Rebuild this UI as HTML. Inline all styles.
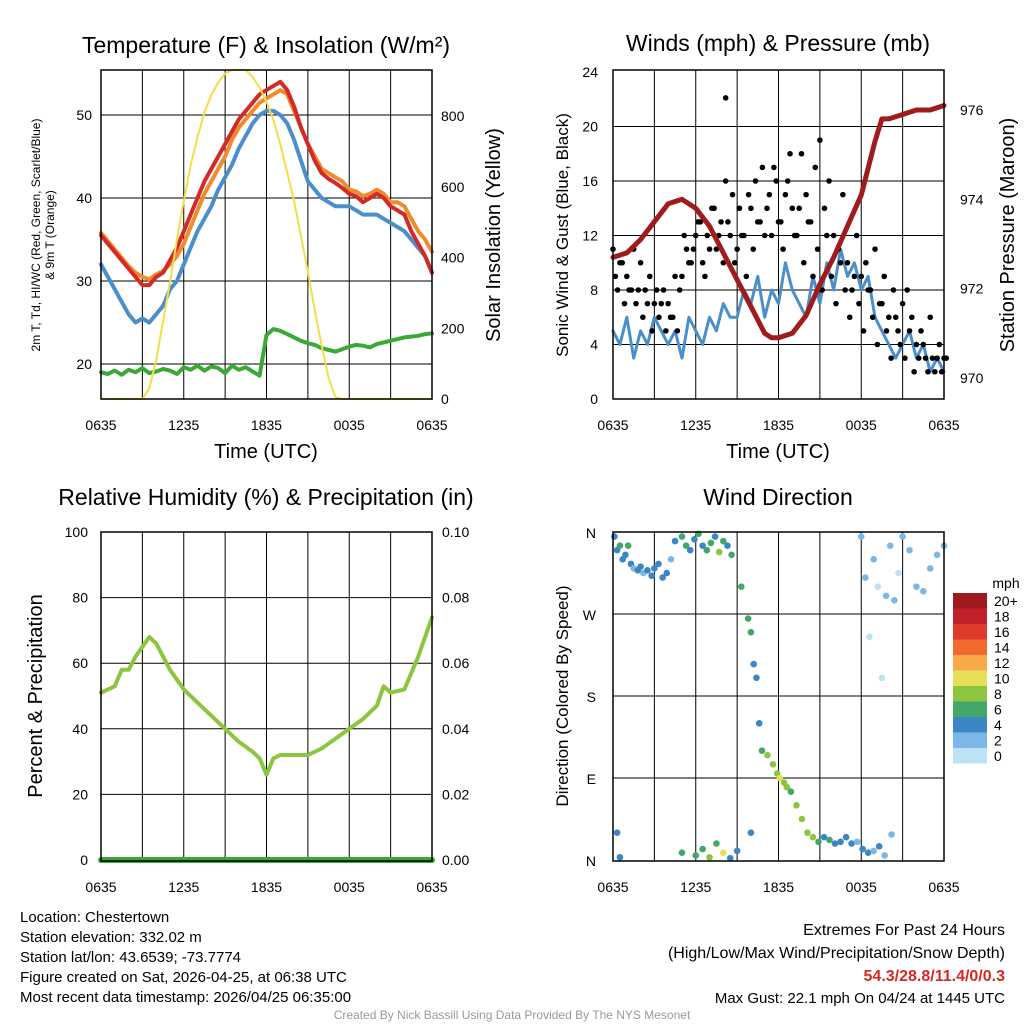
<!DOCTYPE html>
<html><head><meta charset="utf-8"><style>
body{margin:0;background:#fff}
svg{display:block;font-family:"Liberation Sans",sans-serif}
</style></head><body>
<svg id="c" width="1024" height="1024" viewBox="0 0 1024 1024"></svg>
<script>
// ---------- DATA ----------
const hrsHalf = [0,0.5,1,1.5,2,2.5,3,3.5,4,4.5,5,5.5,6,6.5,7,7.5,8,8.5,9,9.5,10,10.5,11,11.5,12,12.5,13,13.5,14,14.5,15,15.5,16,16.5,17,17.5,18,18.5,19,19.5,20,20.5,21,21.5,22,22.5,23,23.5,24];
const tempRed = [35.5,34.5,33.5,32.5,31.5,30.5,29.5,29.5,30.5,31,32.5,34,36,38,40,42,43.5,45,46.5,48,49.5,50.5,51.5,52.5,53,53.5,54,53,51,48.5,46.5,44.5,43,42.3,41.8,41.2,40.5,40.2,39.5,40,40.5,40,39,38.5,38,36,34.5,33,31];
const temp9m = [35.8,34.8,33.8,32.8,31.8,31,30.5,30.2,30.8,31.2,32,33,34.5,36.5,38.5,40.5,42,43.5,45,47,48.5,49.5,50.5,51.5,52,52.5,53,52.5,50.5,48.5,46.5,45,43.5,43,42.5,42,41,40.8,40.2,40.5,41,40.5,39.5,39.5,39,37.5,36,35,33.5];
const tempBlue = [32,30.5,29,27.5,26,25,25.5,25,26,27,29,30,32,34,36,37.5,39,41,42.5,44,46,47.5,49,50,50.5,50.5,50,49,47,44.5,42,41,40,39.5,39,39,39,38.5,38,38,38,37.5,37,36.5,36,35,34,33,31];
const dewGreen = [19,18.8,19.2,18.7,19.3,19,19.5,18.9,19.1,19.4,19.2,18.8,19.6,19.3,19.8,19.2,19.7,19.5,18.9,19.8,19.3,19.6,19.1,18.6,23.5,24.2,24,23.6,23.2,22.8,22.5,22.3,21.9,21.7,21.5,21.8,22.1,22.3,22.2,22,22.4,22.6,22.8,23,23.2,23.3,23.4,23.6,23.7];
const solar = [0,0,0,0,0,0,0,30,110,220,330,450,560,660,740,810,860,895,920,930,930,930,910,880,840,790,720,640,560,460,360,250,150,60,5,0,0,0,0,0,0,0,0,0,0,0,0,0,0];
const windSpd = [5,4,6,3,5,4,6,5,4,5,3,6,5,4,6,5,7,6,6,8,7,9,6,8,7,10,8,7,6,9,7,10,8,11,9,10,8,9,6,5,4,3,4,5,3,4,2,3,2];
const gustVals = [11,8,10,9,8,7,10,8,9,7,6,8,7,6,5,9,11,10,12,13,9,11,14,12,10,13,15,11,12,9,14,16,13,12,15,17,13,11,16,14,12,18,15,13,17,19,14,16,12,11,15,10,8,12,9,10,8,11,7,9,6,8,5,7,8,6,4,5,3,6,2,4,3];
const gust2 = [9,10,7,8,11,8,6,7,5,8,7,5,6,9,8,12,10,11,13,10,12,14,11,13,16,12,10,14,12,15,11,13,17,14,12,16,13,15,18,12,14,10,13,9,11,8,12,9,7,10,8,6,9,7,5,8,6,4,7,5,3,6,4,3,5,2,3,4,2,3,3,2,3];
const pressHrs = [0,1,2,3,4,5,6,7,8,9,10,11,11.5,12,13,14,15,16,17,18,19,19.5,20,21,22,23,24];
const pressure = [972.7,972.8,973.1,973.5,973.9,974.0,973.8,973.4,972.8,972.2,971.6,971.0,970.9,970.9,971.0,971.4,972.1,972.7,973.4,974.1,975.3,975.8,975.8,975.9,976.0,976.0,976.1];
const rhHrs = [0,1,1.5,2,2.5,3,3.5,4,4.5,5,6,7,8,9,10,11,11.5,12,12.5,13,14,15,16,17,18,19,20,20.5,21,22,23,23.5,24];
const rh = [51,53,58,58,62,65,68,66,62,58,52,48,44,40,36,33,31,26,31,32,32,32,34,37,40,43,47,53,51,52,62,68,74];
const precip = [0,0,0,0,0,0,0,0,0,0,0,0,0,0,0,0,0,0,0,0,0,0,0,0,0];
const wdT = [0.1,0.3,0.5,0.7,0.9,1.1,1.3,1.5,1.8,2.0,2.2,2.5,2.8,3.0,3.3,3.6,3.9,4.2,4.5,5.0,5.3,5.6,5.9,6.2,6.5,6.8,7.1,7.4,7.7,8.0,8.3,8.6,9.3,9.8,10.0,10.2,10.4,10.6,10.8,11.2,11.6,11.9,12.1,12.4,12.6,12.9,13.3,13.7,14.1,14.5,14.9,15.3,15.7,16.1,16.5,16.9,17.3,17.7,18.1,18.5,18.9,19.3,19.7,20.2,18.0,18.3,18.6,18.9,19.2,19.5,19.8,20.1,20.4,20.7,21.0,21.5,22.0,22.5,23.0,23.5,24.0,6.0,6.5,7.0,7.5,8.0,8.5,9.0,10.0,5.0,0.3,0.5];
const wdDir = [355,340,345,330,335,345,325,320,318,322,315,318,312,320,325,310,315,330,350,355,345,340,352,358,345,340,348,355,338,350,345,335,300,265,250,215,200,150,120,115,105,95,90,85,80,75,60,45,30,25,20,25,22,18,20,25,18,20,12,8,10,15,5,28,355,310,245,330,300,200,290,345,285,315,355,340,300,295,320,335,345,5,12,3,18,8,2,10,30,8,30,3];
const wdSpd = [4,5,6,5,4,6,4,3,4,4,3,4,4,5,5,4,4,3,5,6,7,5,4,6,5,7,6,4,8,7,5,7,6,7,6,4,5,5,6,8,9,9,10,9,8,7,9,8,9,8,6,5,6,5,4,5,4,3,4,5,3,4,2,3,2,2,1,2,1,1,2,3,2,1,2,3,2,2,3,3,2,6,7,8,6,10,5,4,5,6,4,4];
const cbLabels = ["20+","18","16","14","12","10","8","6","4","2","0"];
const cbColors = ["#9e1a1e","#c2202a","#df3b2c","#f06a2d","#f8a94a","#e6df58","#8cc540","#45a669","#3d86c6","#7cb8e5","#bee3f6"];

// ---------- HELPERS ----------
const S = document.getElementById('c');
const NS = 'http://www.w3.org/2000/svg';
function mk(tag, attrs, parent, name, inter){
  const e = document.createElementNS(NS, tag);
  for (const k in attrs) e.setAttribute(k, attrs[k]);
  
  
  (parent || S).appendChild(e);
  return e;
}
function txt(x,y,s,size,opts,name){
  opts = opts || {};
  const a = {x:x,y:y,'font-size':size,fill:opts.fill||'#000','text-anchor':opts.anchor||'middle'};
  if (opts.rot) a.transform = 'rotate(-90 '+x+' '+y+')';
  if (opts.bold) a['font-weight']='bold';
  const e = mk('text', a, null, name, false);
  e.textContent = s;
  return e;
}
const W = 331, H = 329;
function xs(x0){ return t => x0 + t/24*W; }
function lin(d0,d1,p0,p1){ return v => p0 + (v-d0)/(d1-d0)*(p1-p0); }
function poly(xa, ya, fx, fy, color, w, name){
  const pts = xa.map((t,i)=>fx(t).toFixed(1)+','+fy(ya[i]).toFixed(1)).join(' ');
  return mk('polyline',{points:pts,fill:'none',stroke:color,'stroke-width':w,'stroke-linejoin':'round','stroke-linecap':'round'},null,name,false);
}
const xlabels = ['0635','1235','1835','0035','0635'];
function frame(x0,y0,name,hy){
  for (let h=3; h<24; h+=3){
    const x = x0 + h/24*W;
    mk('line',{x1:x,y1:y0,x2:x,y2:y0+H,stroke:'#000','stroke-width':1},null,name+'-vgrid',false);
  }
  hy.forEach(y=>{ mk('line',{x1:x0,y1:y,x2:x0+W,y2:y,stroke:'#000','stroke-width':1},null,name+'-hgrid',false); });
  xlabels.forEach((l,i)=>{ txt(x0+i*W/4, y0+H+31, l, 14, {}, name+'-x-tick-label'); });
}
function border(x0,y0,name){
  mk('rect',{x:x0,y:y0,width:W,height:H,fill:'none',stroke:'#000','stroke-width':1.5},null,name+'-frame',false);
}

// ---------- PANEL 1 ----------
const p1x = xs(101), p1y = lin(20,50,364,115), p1s = lin(0,800,399,116);
const t1ticks=[20,30,40,50], s1ticks=[0,200,400,600,800];
frame(101,70,'temp-panel', t1ticks.map(p1y));
t1ticks.forEach(v=>txt(92,p1y(v)+5,String(v),14,{anchor:'end'},'temp-y-tick-label'));
s1ticks.forEach(v=>txt(441,p1s(v)+5,String(v),14,{anchor:'start'},'solar-y-tick-label'));
poly(hrsHalf, dewGreen, p1x, p1y, '#3aa935', 4, 'dewpoint-line');
poly(hrsHalf, tempBlue, p1x, p1y, '#4a8fcc', 4, 'windchill-line');
poly(hrsHalf, temp9m, p1x, p1y, '#f08a2a', 4, 'temp-9m-line');
poly(hrsHalf, tempRed, p1x, p1y, '#d42a26', 4, 'temp-2m-line');
poly(hrsHalf, solar, p1x, p1s, '#f5dd4a', 2, 'solar-line');
border(101,70,'temp-panel');
txt(266,53,'Temperature (F) & Insolation (W/m²)',23,{},'temp-title');
txt(266,458,'Time (UTC)',20,{},'temp-x-axis-title');
txt(40,235,'2m T, Td, HI/WC (Red, Green, Scarlet/Blue)',12,{rot:1},'temp-y-axis-title');
txt(54,235,'& 9m T (Orange)',12,{rot:1},'temp-y-axis-title-2');
txt(500,235,'Solar Insolation (Yellow)',20,{rot:1},'solar-y-axis-title');

// ---------- PANEL 2 ----------
const p2x = xs(613), p2w = lin(0,24,399,72), p2p = lin(970,976,378,110);
const w2ticks=[0,4,8,12,16,20,24], pr2ticks=[970,972,974,976];
frame(613,70,'wind-panel',[4,8,12,16,20].map(p2w));
w2ticks.forEach(v=>txt(598,p2w(v)+5,String(v),14,{anchor:'end'},'wind-y-tick-label'));
pr2ticks.forEach(v=>txt(960,p2p(v)+5,String(v),14,{anchor:'start'},'pressure-y-tick-label'));
poly(hrsHalf, windSpd, p2x, p2w, '#4a8fcc', 3, 'wind-speed-line');
gustVals.forEach((v,i)=>{ mk('circle',{cx:p2x(i/3),cy:p2w(v),r:2.8,fill:'#000'},null,'gust-point',false); });
gust2.forEach((v,i)=>{ mk('circle',{cx:p2x(i/3+1/6),cy:p2w(v),r:2.8,fill:'#000'},null,'gust-point',false); });
mk('circle',{cx:p2x(8.17),cy:p2w(22.1),r:2.8,fill:'#000'},null,'max-gust-point',false);
poly(pressHrs, pressure, p2x, p2p, '#a01c1c', 5, 'pressure-line');
border(613,70,'wind-panel');
txt(778,51,'Winds (mph) & Pressure (mb)',23,{},'wind-title');
txt(778,458,'Time (UTC)',20,{},'wind-x-axis-title');
txt(568,235,'Sonic Wind & Gust (Blue, Black)',17,{rot:1},'wind-y-axis-title');
txt(1014,235,'Station Pressure (Maroon)',20,{rot:1},'pressure-y-axis-title');

// ---------- PANEL 3 ----------
const p3x = xs(101), p3y = lin(0,100,860,532), p3p = lin(0,0.1,860,532);
const rhTicks=[0,20,40,60,80,100], prTicks=['0.00','0.02','0.04','0.06','0.08','0.10'];
frame(101,532,'rh-panel',[20,40,60,80].map(p3y));
rhTicks.forEach(v=>txt(88,p3y(v)+5,String(v),14,{anchor:'end'},'rh-y-tick-label'));
prTicks.forEach(v=>txt(442,p3p(+v)+5,v,14,{anchor:'start'},'precip-y-tick-label'));
poly(rhHrs, rh, p3x, p3y, '#8cc540', 4, 'rh-line');
poly(precip.map((_,i)=>i), precip, p3x, p3p, '#3aa935', 6, 'precip-line');
border(101,532,'rh-panel');
txt(266,505,'Relative Humidity (%) & Precipitation (in)',23,{},'rh-title');
txt(42,696,'Percent & Precipitation',20,{rot:1},'rh-y-axis-title');

// ---------- PANEL 4 ----------
const p4x = xs(613), p4y = lin(0,360,860,532);
const dirLabels=['N','E','S','W','N'];
frame(613,532,'dir-panel',[90,180,270].map(p4y));
dirLabels.forEach((l,i)=>txt(596,p4y(i*90)+6,l,14,{anchor:'end'},'dir-y-tick-label'));
function spdColor(s){ let b=Math.min(10,Math.floor(s/2)); return cbColors[10-b]; }
wdT.forEach((t,i)=>{ mk('circle',{cx:p4x(t),cy:p4y(wdDir[i]),r:3.3,fill:spdColor(wdSpd[i])},null,'wind-dir-point',false); });
border(613,532,'dir-panel');
txt(778,505,'Wind Direction',23,{},'dir-title');
txt(568,696,'Direction (Colored By Speed)',17,{rot:1},'dir-y-axis-title');
txt(1006,588,'mph',14,{},'colorbar-title');
cbColors.forEach((c,i)=>{
  mk('rect',{x:953,y:593+i*15.5,width:34,height:15.5,fill:c},null,'colorbar-box',false);
  txt(994,606+i*15.5,cbLabels[i],14,{anchor:'start'},'colorbar-label');
});

// ---------- FOOTER ----------
const info=['Location: Chestertown','Station elevation: 332.02 m','Station lat/lon: 43.6539; -73.7774','Figure created on Sat, 2026-04-25, at 06:38 UTC','Most recent data timestamp: 2026/04/25 06:35:00'];
info.forEach((s,i)=>txt(20,922+i*20,s,15,{anchor:'start'},'station-info-line'));
txt(1005,935,'Extremes For Past 24 Hours',16,{anchor:'end'},'extremes-title');
txt(1005,958,'(High/Low/Max Wind/Precipitation/Snow Depth)',16,{anchor:'end'},'extremes-subtitle');
txt(1005,981,'54.3/28.8/11.4/0/0.3',16,{anchor:'end',bold:1,fill:'#d42a26'},'extremes-values');
txt(1005,1003,'Max Gust: 22.1 mph On 04/24 at 1445 UTC',15,{anchor:'end'},'max-gust-text');
txt(512,1019,'Created By Nick Bassill Using Data Provided By The NYS Mesonet',12,{fill:'#999'},'credit-text');
</script>
</body></html>
